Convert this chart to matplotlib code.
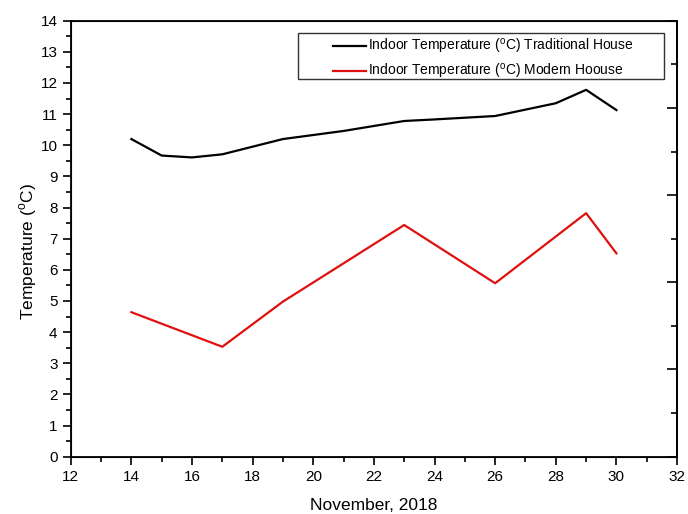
import matplotlib
matplotlib.use("Agg")
import matplotlib.pyplot as plt
from matplotlib.patches import Rectangle
from matplotlib.ticker import MultipleLocator

plt.rcParams["font.family"] = ["Liberation Sans", "DejaVu Sans"]
plt.rcParams["mathtext.fontset"] = "custom"
plt.rcParams["mathtext.rm"] = "Liberation Sans"

# daily indoor temperatures, November 2018
days_traditional = [14, 15, 16, 17, 19, 21, 23, 24, 26, 28, 29, 30]
temp_traditional = [10.2, 9.67, 9.61, 9.71, 10.2, 10.46, 10.78, 10.83, 10.94, 11.35, 11.78, 11.13]

days_modern = [14, 17, 19, 23, 26, 29, 30]
temp_modern = [4.64, 3.53, 4.98, 7.44, 5.57, 7.82, 6.53]

label_traditional = r"Indoor Temperature ($^{\rm o}$C) Traditional House"
label_modern = r"Indoor Temperature ($^{\rm o}$C) Modern Hoouse"

fig = plt.figure(figsize=(6.88, 5.14), dpi=100)
ax = fig.add_axes([0.1028, 0.1115, 0.8813, 0.8482])

ax.plot(days_traditional, temp_traditional, color="black", lw=1.6, label=label_traditional)
ax.plot(days_modern, temp_modern, color="#e01010", lw=1.6, label=label_modern)

ax.set_xlim(12, 32)
ax.set_ylim(0, 14)
ax.xaxis.set_major_locator(MultipleLocator(2))
ax.xaxis.set_minor_locator(MultipleLocator(1))
ax.yaxis.set_major_locator(MultipleLocator(1))
ax.yaxis.set_minor_locator(MultipleLocator(0.5))
ax.tick_params(which="both", direction="out", top=False, right=False, width=1.2, labelsize=11)
ax.tick_params(which="major", length=6)
ax.tick_params(which="minor", length=3.5)
for sp in ax.spines.values():
    sp.set_linewidth(1.3)

ax.set_xlabel("November, 2018", fontsize=12.5)
ax.xaxis.set_label_coords(0.5, -0.095)
ax.set_ylabel(r"Temperature ($^{\rm o}$C)", fontsize=12.5)
ax.yaxis.set_label_coords(-0.052, 0.47)

# unlabelled ticks on the right-hand frame
axr = ax.twinx()
axr.set_ylim(0, 5)
axr.yaxis.set_major_locator(MultipleLocator(1))
axr.yaxis.set_minor_locator(MultipleLocator(0.5))
axr.tick_params(which="both", direction="in", labelright=False, width=1.2)
axr.tick_params(which="major", length=7)
axr.tick_params(which="minor", length=4)
axr.spines["right"].set_linewidth(1.3)

# legend box is wider than its entries, so draw the frame separately
ax.add_patch(Rectangle((0.375, 0.8663), 0.6036, 0.1055, transform=ax.transAxes,
                       facecolor="white", edgecolor="#333333", lw=1.0, zorder=4))
leg = ax.legend(loc="center left", bbox_to_anchor=(0.4326, 0.912), fontsize=10,
                frameon=False, handlelength=2.4, handletextpad=0.15,
                borderpad=0, labelspacing=0.45, borderaxespad=0)
leg.set_zorder(5)

fig.savefig("out.png", dpi=100)
